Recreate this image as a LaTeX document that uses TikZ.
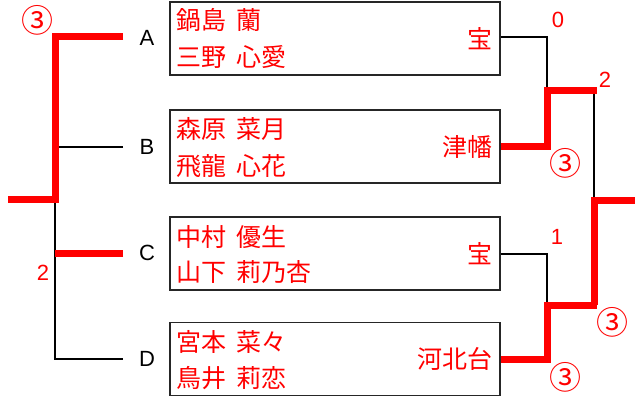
\documentclass[tikz,border=0pt]{standalone}
\usepackage{fontspec}
\setmainfont{Liberation Sans}
\newfontfamily\jp{Noto Sans CJK JP}
\newcommand\jsp{\hspace{0.42em}}
\begin{document}
\begin{tikzpicture}[x=1pt,y=-1pt,
  box/.style={draw=black!85,line width=1.6pt,minimum width=330pt,minimum height=73pt,inner sep=0pt},
  nm/.style={text=red,font=\jp\fontsize{25}{25}\selectfont,inner sep=0pt,anchor=west},
  sch/.style={text=red,font=\jp\fontsize{25}{25}\selectfont,inner sep=0pt,anchor=east},
  lt/.style={font=\fontsize{22}{22}\selectfont,inner sep=0pt},
  num/.style={text=red,font=\fontsize{22}{22}\selectfont,inner sep=0pt},
  circ/.style={text=red,font=\jp\fontsize{32}{32}\selectfont,inner sep=0pt},
  win/.style={draw=red,line width=7pt},
  lose/.style={draw=black,line width=1.5pt}]
\useasboundingbox (0,0) rectangle (635,396);
% boxes
\node[box] (b1) at (335,38.5) {};
\node[box] (b2) at (335,146.5) {};
\node[box] (b3) at (335,253.5) {};
\node[box] (b4) at (335,359) {};
% names
\node[nm] (n1a) at (176,20) {鍋島\jsp 蘭};
\node[nm] (n1b) at (176,57) {三野\jsp 心愛};
\node[nm] (n2a) at (176,129) {森原\jsp 菜月};
\node[nm] (n2b) at (176,166) {飛龍\jsp 心花};
\node[nm] (n3a) at (176,237) {中村\jsp 優生};
\node[nm] (n3b) at (176,272) {山下\jsp 莉乃杏};
\node[nm] (n4a) at (176,342) {宮本\jsp 菜々};
\node[nm] (n4b) at (176,378) {鳥井\jsp 莉恋};
\node[sch] (s1) at (493,38.5) {宝};
\node[sch] (s2) at (493,146.5) {津幡};
\node[sch] (s3) at (493,253.5) {宝};
\node[sch] (s4) at (493,359) {河北台};
% letters
\node[lt] (A) at (147,38) {A};
\node[lt] (B) at (147,147) {B};
\node[lt] (C) at (147,253) {C};
\node[lt] (D) at (147,359) {D};
% left bracket coordinates
\coordinate (la) at (123,37);
\coordinate (lb) at (123,147);
\coordinate (lc) at (123,253);
\coordinate (ld) at (123,359);
\coordinate (lout) at (8,199);
\draw[lose] (lb) -- (55,147);
\draw[lose] (55,199) -- (55,359) -- (ld);
\draw[win] (la) -- (55,37) -- (55,199) -- (lout);
\draw[win] (lc) -- (55,253);
% right bracket
\coordinate (rout) at (635,200);
\draw[lose] (b1.east |- 0,37) -- (547,37) -- (547,92);
\draw[lose] (b3.east |- 0,254) -- (547,254) -- (547,306);
\draw[lose] (594,92) -- (594,200);
\draw[win] (b2.east |- 0,146) -- (547,146) -- (547,91) -- (597,91);
\draw[win] (b4.east |- 0,359) -- (547,359) -- (547,305) -- (597,305);
\draw[win] (rout) -- (594,200) -- (594,305);
% scores
\node[circ] (c1) at (37,20) {③};
\node[num] (k1) at (43,273) {2};
\node[num] (k2) at (558,20) {0};
\node[num] (k3) at (605,80) {2};
\node[circ] (c2) at (565,163) {③};
\node[num] (k4) at (557,237) {1};
\node[circ] (c3) at (612,322) {③};
\node[circ] (c4) at (565,377) {③};
\end{tikzpicture}
\end{document}
